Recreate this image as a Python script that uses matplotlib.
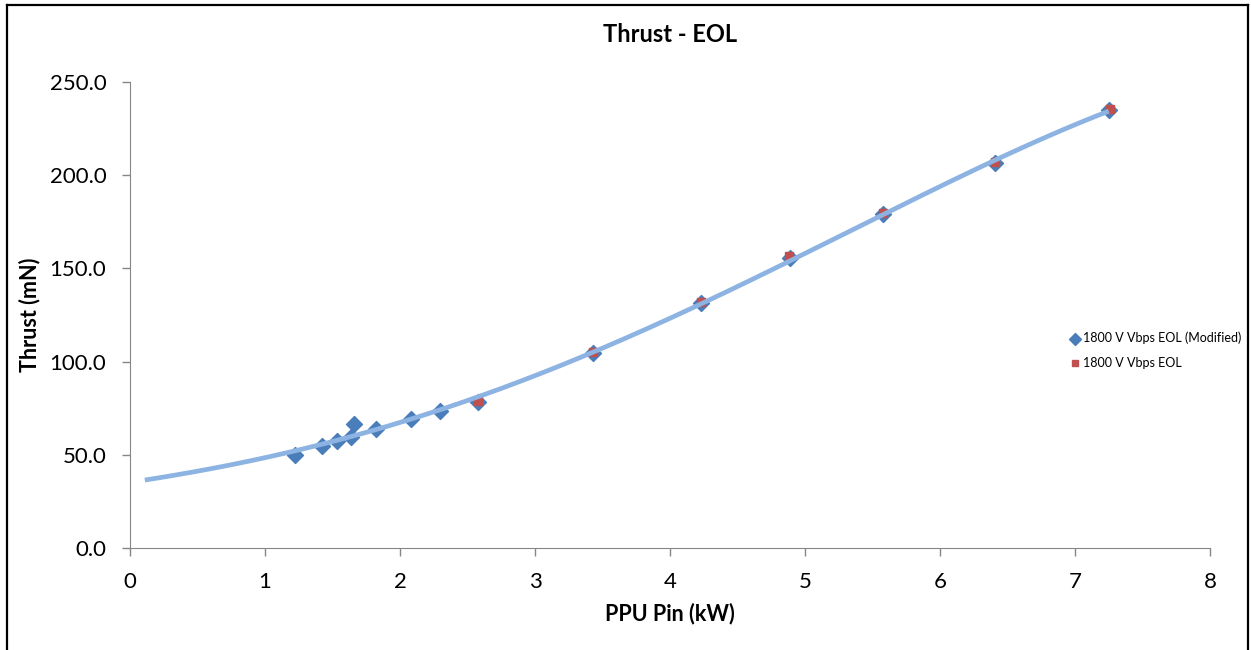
import numpy as np
import matplotlib.pyplot as plt
from matplotlib.lines import Line2D

plt.rcParams['font.family'] = ['Lato', 'DejaVu Sans']

# Measured thrust vs PPU input power
pin_mod = [1.22, 1.42, 1.53, 1.64, 1.66, 1.82, 2.08, 2.30, 2.58,
           3.43, 4.23, 4.89, 5.58, 6.41, 7.25]
thrust_mod = [49.9, 54.7, 57.4, 59.5, 66.5, 63.8, 69.2, 73.5, 78.3,
              104.6, 131.4, 155.6, 179.2, 206.5, 235.0]

pin_eol = [2.58, 3.43, 4.23, 4.88, 5.58, 6.41, 7.26]
thrust_eol = [78.8, 105.0, 131.9, 156.4, 179.6, 207.0, 235.6]

x_ticks = [0, 1, 2, 3, 4, 5, 6, 7, 8]
y_ticks = [0, 50, 100, 150, 200, 250]

# 4th-order polynomial trend of the modified series, extended back to low power
coef = np.polyfit(pin_mod, thrust_mod, 4)
xs = np.linspace(0.11, max(pin_mod), 300)
ys = np.polyval(coef, xs)

fig = plt.figure(figsize=(12.51, 6.5), dpi=100)
ax = fig.add_axes([0.1039, 0.1569, 0.8633, 0.7169])

ax.scatter(pin_mod, thrust_mod, marker='D', s=66, color='#4a7ebb',
           zorder=3, label='1800 V Vbps EOL (Modified)')
ax.scatter(pin_eol, thrust_eol, marker='s', s=28, color='#c0504d',
           zorder=3, label='1800 V Vbps EOL')
ax.plot(xs, ys, color='#8db3e2', lw=3.4, zorder=4, solid_capstyle='butt')

ax.set_xlim(0, 8)
ax.set_ylim(0, 250)
ax.set_xticks(x_ticks)
ax.set_yticks(y_ticks)
ax.set_yticklabels([f'{v:.1f}' for v in y_ticks])
ax.tick_params(axis='both', labelsize=16, direction='out', length=6,
               color='#868686', width=1)
ax.tick_params(axis='y', pad=11)
ax.tick_params(axis='x', pad=11)

for side in ('top', 'right'):
    ax.spines[side].set_visible(False)
for side in ('left', 'bottom'):
    ax.spines[side].set_color('#868686')

ax.set_title('Thrust - EOL', fontsize=17, fontweight='bold', pad=29)
ax.set_xlabel('PPU Pin (kW)', fontsize=15.5, fontweight='bold', labelpad=8)
ax.set_ylabel('Thrust (mN)', fontsize=15.5, fontweight='bold', labelpad=7)

handles, labels = ax.get_legend_handles_labels()
fig.legend(handles=handles, labels=labels,
           loc='center left', bbox_to_anchor=(1069 / 1251, 1 - 350 / 650),
           fontsize=9, frameon=False, handlelength=1.0, handletextpad=0.1,
           markerscale=0.75, labelspacing=1.0, borderaxespad=0, borderpad=0)

# Outer frame of the chart area
frame = dict(color='black', lw=1.6, transform=fig.transFigure)
fig.add_artist(Line2D([0.0058, 0.0058], [0, 0.992], **frame))
fig.add_artist(Line2D([0.0058, 0.998], [0.992, 0.992], **frame))
fig.add_artist(Line2D([0.998, 0.998], [0, 0.992], **frame))

fig.savefig('out.png', dpi=100)
